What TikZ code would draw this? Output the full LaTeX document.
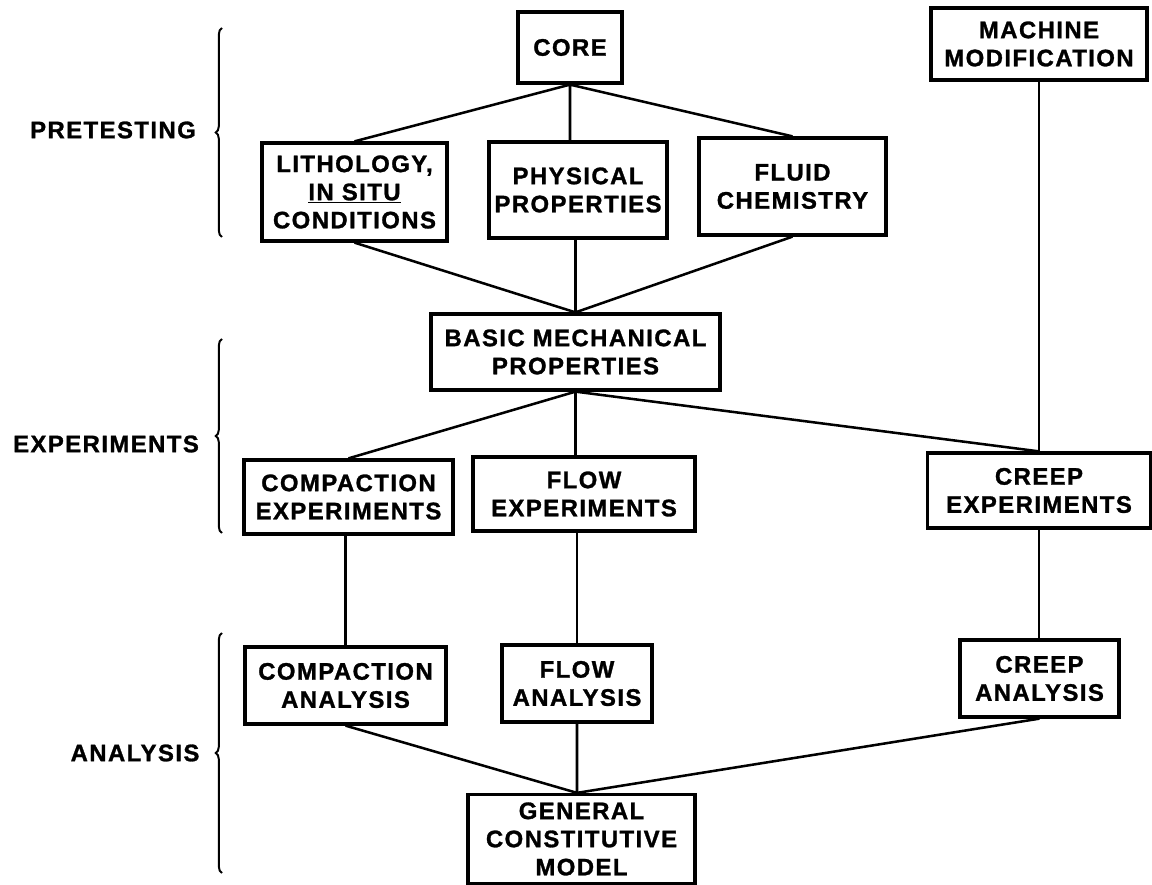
\documentclass[tikz,border=0pt]{standalone}
\usepackage{fontspec}
\setmainfont{Liberation Sans}[LetterSpace=6,BoldFeatures={FakeBold=1.2}]
\usepackage{tikz}
\usetikzlibrary{decorations.pathreplacing}

\begin{document}
\begin{tikzpicture}[x=.025cm,y=-.025cm,line width=1.8pt,font=\bfseries\fontsize{17}{20}\selectfont,
  box/.style={draw,line width=2.3pt,align=center,inner sep=0pt},
  grp/.style={decorate,decoration={brace,amplitude=4.5pt},line width=1.4pt}]
\useasboundingbox (0,0) rectangle (1152,885);
% boxes
\node[box,minimum width=2.6cm,minimum height=1.775cm] (core) at (570,47.5) {CORE};
\node[box,minimum width=5.4cm,minimum height=1.8cm] (machine) at (1039,44) {MACHINE\\MODIFICATION};
\node[box,minimum width=4.625cm,minimum height=2.45cm] (litho) at (354.5,192) {LITHOLOGY,\\\underline{IN SITU}\\CONDITIONS};
\node[box,minimum width=4.45cm,minimum height=2.4cm] (phys) at (578,190) {PHYSICAL\\PROPERTIES};
\node[box,minimum width=4.675cm,minimum height=2.425cm] (fluid) at (792.5,186.5) {FLUID\\CHEMISTRY};
\node[box,minimum width=7.225cm,minimum height=1.9cm] (basic) at (575.5,352) {BASIC MECHANICAL\\PROPERTIES};
\node[box,minimum width=5.225cm,minimum height=1.85cm] (compexp) at (348.5,497) {COMPACTION\\EXPERIMENTS};
\node[box,minimum width=5.55cm,minimum height=1.85cm] (flowexp) at (584,494) {FLOW\\EXPERIMENTS};
\node[box,minimum width=5.575cm,minimum height=1.875cm] (creepexp) at (1039,490.5) {CREEP\\EXPERIMENTS};
\node[box,minimum width=5.025cm,minimum height=1.925cm] (companal) at (345.5,685.5) {COMPACTION\\ANALYSIS};
\node[box,minimum width=3.75cm,minimum height=1.925cm] (flowanal) at (577,683.5) {FLOW\\ANALYSIS};
\node[box,minimum width=3.975cm,minimum height=1.925cm] (creepanal) at (1039.5,678.5) {CREEP\\ANALYSIS};
\node[box,minimum width=5.675cm,minimum height=2.225cm] (model) at (581.5,839) {GENERAL\\CONSTITUTIVE\\MODEL};
% stage labels and braces
\node (pretest) at (113,130) {PRETESTING};
\node (experim) at (106,444) {EXPERIMENTS};
\node (analys) at (135,753) {ANALYSIS};
\draw[grp] (222,237)--(222,28);
\draw[grp] (222,533)--(222,339);
\draw[grp] (222,873)--(222,633);
% connectors
\coordinate (mtop) at (flowanal.south |- model.north);
\draw (core.south)--(litho.north) (core.south)--(core.south |- phys.north) (core.south)--(fluid.north);
\draw (litho.south)--(basic.north) (basic.north |- phys.south)--(basic.north) (fluid.south)--(basic.north);
\draw (basic.south)--(compexp.north) (basic.south)--(basic.south |- flowexp.north) (basic.south)--(creepexp.north);
\draw (machine.south)--(creepexp.north);
\draw (companal.north |- compexp.south)--(companal.north) (flowanal.north |- flowexp.south)--(flowanal.north)
  (creepexp.south)--(creepexp.south |- creepanal.north);
\draw (companal.south)--(mtop) (flowanal.south)--(mtop) (creepanal.south)--(mtop);
\end{tikzpicture}
\end{document}
